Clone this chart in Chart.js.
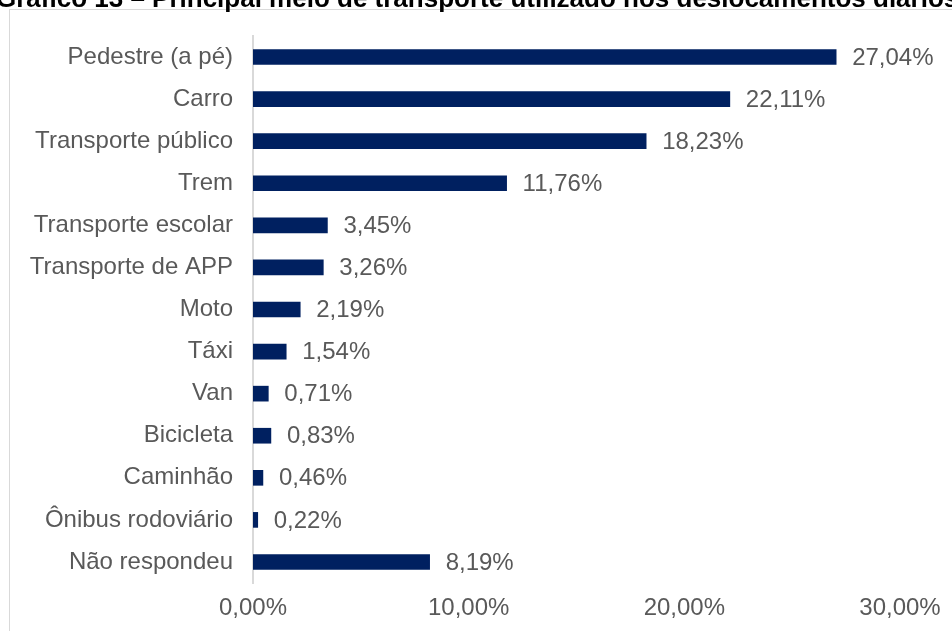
<!DOCTYPE html>
<html lang="pt-BR">
<head>
<meta charset="utf-8">
<title>Meio de transporte</title>
<script src="https://cdn.jsdelivr.net/npm/chart.js@4.4.1/dist/chart.umd.min.js"></script>
<style>
  html, body { margin: 0; padding: 0; background: #ffffff; }
  #transportChart { display: block; }
</style>
</head>
<body>
<canvas id="transportChart" width="952" height="631"></canvas>
<script>
// chart data
const categorias = [
  "Pedestre (a pé)",
  "Carro",
  "Transporte público",
  "Trem",
  "Transporte escolar",
  "Transporte de APP",
  "Moto",
  "Táxi",
  "Van",
  "Bicicleta",
  "Caminhão",
  "Ônibus rodoviário",
  "Não respondeu",
];
const percentuais = [27.04, 22.11, 18.23, 11.76, 3.45, 3.26, 2.19, 1.54, 0.71, 0.83, 0.46, 0.22, 8.19];
const ticksX = [0, 10, 20, 30];

const tituloGrafico = "Gráfico 13 – Principal meio de transporte utilizado nos deslocamentos diários";

const corBarra = "#002060";
const corTexto = "#595959";
const corLinha = "#d9d9d9";
const fonte = "'Liberation Sans', Arial, sans-serif";
const tamFonte = 24;

// 27.04 -> "27,04%"
function formatPct(v) {
  return v.toFixed(2).replace(".", ",") + "%";
}

// frame + title, drawn behind the chart
const molduraPlugin = {
  id: "moldura",
  beforeDraw(chart) {
    const ctx = chart.ctx;
    ctx.save();
    ctx.fillStyle = "#ffffff";
    ctx.fillRect(0, 0, chart.width, chart.height);
    ctx.strokeStyle = corLinha;
    ctx.lineWidth = 1;
    ctx.strokeRect(9.5, 9.5, 1200, 1200);
    ctx.fillStyle = "#000000";
    ctx.font = "bold 26px " + fonte;
    ctx.textBaseline = "alphabetic";
    ctx.textAlign = "left";
    ctx.fillText(tituloGrafico, -4, 7);
    ctx.restore();
  },
};

// value labels at the end of each bar
const rotulosPlugin = {
  id: "rotulos",
  afterDatasetsDraw(chart) {
    const ctx = chart.ctx;
    const meta = chart.getDatasetMeta(0);
    ctx.save();
    ctx.fillStyle = corTexto;
    ctx.font = tamFonte + "px " + fonte;
    ctx.textAlign = "left";
    ctx.textBaseline = "middle";
    meta.data.forEach((bar, i) => {
      ctx.fillText(formatPct(percentuais[i]), bar.x + 16, bar.y + 1);
    });
    ctx.restore();
  },
};

function createChart() {
  const ctx = document.getElementById("transportChart").getContext("2d");
  new Chart(ctx, {
    type: "bar",
    data: {
      labels: categorias,
      datasets: [
        {
          data: percentuais,
          backgroundColor: corBarra,
          borderWidth: 0,
          barThickness: 15,
        },
      ],
    },
    options: {
      indexAxis: "y",
      responsive: false,
      animation: false,
      layout: {
        padding: { left: 0, right: 52, top: 36, bottom: 0 },
      },
      plugins: {
        legend: { display: false },
        tooltip: { enabled: false },
        title: { display: false },
      },
      scales: {
        x: {
          min: ticksX[0],
          max: ticksX[ticksX.length - 1],
          afterBuildTicks: (scale) => {
            scale.ticks = ticksX.map((v) => ({ value: v }));
          },
          afterFit: (scale) => {
            scale.height = 48;
          },
          grid: { display: false, drawTicks: false },
          border: { display: false },
          ticks: {
            color: corTexto,
            font: { family: fonte, size: tamFonte },
            padding: 11,
            maxRotation: 0,
            callback: (v) => formatPct(v),
          },
        },
        y: {
          afterFit: (scale) => {
            scale.width = 253;
          },
          grid: { display: false, drawTicks: false },
          border: { display: true, color: corLinha, width: 2 },
          ticks: {
            color: corTexto,
            font: { family: fonte, size: tamFonte },
            padding: 20,
            autoSkip: false,
          },
        },
      },
    },
    plugins: [molduraPlugin, rotulosPlugin],
  });
}

window.onload = function () {
  createChart();
};
</script>
</body>
</html>
